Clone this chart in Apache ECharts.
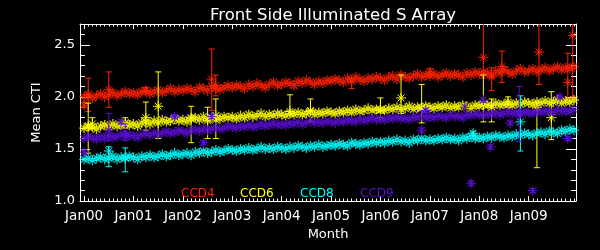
<!DOCTYPE html>
<html>
<head>
<meta charset="utf-8">
<script src="https://cdn.jsdelivr.net/npm/echarts@6/dist/echarts.min.js"></script>
<style>
html,body{margin:0;padding:0;background:#000;}
#chart{width:600px;height:250px;}
</style>
</head>
<body>
<div id="chart"></div>
<script>
// x positions are month indices counted from Jan 2000
const xTickLabels = ["Jan00","Jan01","Jan02","Jan03","Jan04","Jan05","Jan06","Jan07","Jan08","Jan09"];
const xTickMonths = [0,12,24,36,48,60,72,84,96,108];
const yTickValues = [1.0,1.5,2.0,2.5];
const yMinorValues = [1.1,1.2,1.3,1.4,1.6,1.7,1.8,1.9,2.1,2.2,2.3,2.4,2.6];

// monthly mean CTI, Jan00 .. Dec09
const ccd4 = [
 2.00,2.02,1.99,2.01,2.03,2.00,2.02,2.04,2.01,2.03,2.05,2.03,
 2.04,2.02,2.05,2.06,2.03,2.05,2.07,2.04,2.06,2.08,2.05,2.07,
 2.06,2.08,2.07,2.05,2.09,2.08,2.06,2.10,2.08,2.07,2.09,2.11,
 2.09,2.11,2.10,2.08,2.12,2.10,2.13,2.11,2.09,2.12,2.14,2.11,
 2.12,2.14,2.13,2.11,2.15,2.13,2.16,2.14,2.12,2.15,2.13,2.16,
 2.15,2.17,2.16,2.14,2.18,2.16,2.19,2.17,2.15,2.18,2.17,2.19,
 2.18,2.16,2.19,2.20,2.17,2.21,2.19,2.18,2.20,2.22,2.19,2.21,
 2.20,2.22,2.19,2.21,2.23,2.20,2.22,2.21,2.19,2.23,2.21,2.24,
 2.22,2.24,2.23,2.21,2.25,2.23,2.26,2.24,2.22,2.25,2.27,2.24,
 2.25,2.27,2.24,2.26,2.28,2.25,2.27,2.29,2.26,2.28,2.27,2.29
];
const ccd6 = [
 1.70,1.72,1.71,1.69,1.72,1.73,1.71,1.74,1.72,1.73,1.75,1.73,
 1.74,1.72,1.75,1.76,1.74,1.77,1.75,1.78,1.76,1.77,1.79,1.77,
 1.78,1.76,1.79,1.80,1.78,1.81,1.79,1.80,1.82,1.79,1.81,1.80,
 1.81,1.79,1.82,1.80,1.83,1.81,1.82,1.84,1.81,1.83,1.82,1.84,
 1.83,1.82,1.84,1.83,1.85,1.83,1.84,1.86,1.83,1.85,1.84,1.86,
 1.85,1.84,1.86,1.85,1.87,1.85,1.88,1.86,1.87,1.89,1.87,1.88,
 1.88,1.87,1.89,1.88,1.90,1.88,1.89,1.91,1.88,1.90,1.89,1.91,
 1.90,1.89,1.91,1.90,1.92,1.89,1.91,1.90,1.92,1.91,1.89,1.92,
 1.91,1.93,1.92,1.90,1.94,1.92,1.93,1.95,1.92,1.94,1.93,1.95,
 1.94,1.93,1.95,1.94,1.96,1.94,1.95,1.97,1.94,1.96,1.95,1.97
];
const ccd8 = [
 1.40,1.41,1.39,1.41,1.42,1.40,1.41,1.43,1.40,1.42,1.41,1.43,
 1.42,1.40,1.43,1.42,1.44,1.42,1.43,1.45,1.43,1.44,1.46,1.44,
 1.45,1.46,1.44,1.47,1.46,1.48,1.46,1.47,1.49,1.47,1.48,1.50,
 1.49,1.48,1.50,1.49,1.51,1.49,1.50,1.52,1.50,1.51,1.50,1.52,
 1.51,1.50,1.52,1.51,1.53,1.52,1.51,1.53,1.52,1.54,1.52,1.53,
 1.54,1.53,1.55,1.54,1.53,1.56,1.55,1.54,1.56,1.55,1.57,1.56,
 1.57,1.56,1.58,1.57,1.59,1.57,1.58,1.56,1.59,1.58,1.60,1.58,
 1.59,1.58,1.60,1.59,1.61,1.59,1.60,1.58,1.61,1.60,1.62,1.60,
 1.61,1.60,1.62,1.61,1.63,1.62,1.61,1.63,1.62,1.64,1.63,1.65,
 1.64,1.63,1.65,1.66,1.64,1.67,1.66,1.65,1.68,1.67,1.69,1.68
];
const ccd9 = [
 1.60,1.62,1.61,1.59,1.62,1.60,1.63,1.61,1.62,1.64,1.62,1.63,
 1.63,1.61,1.64,1.65,1.63,1.66,1.64,1.65,1.67,1.65,1.66,1.68,
 1.67,1.65,1.68,1.69,1.67,1.70,1.68,1.69,1.71,1.69,1.70,1.72,
 1.71,1.70,1.72,1.71,1.73,1.71,1.72,1.74,1.72,1.73,1.75,1.73,
 1.74,1.73,1.75,1.74,1.76,1.74,1.75,1.77,1.75,1.76,1.75,1.77,
 1.76,1.75,1.77,1.76,1.78,1.77,1.76,1.79,1.77,1.78,1.80,1.78,
 1.79,1.78,1.80,1.79,1.81,1.79,1.80,1.78,1.81,1.80,1.82,1.80,
 1.81,1.80,1.82,1.81,1.80,1.83,1.81,1.82,1.80,1.83,1.82,1.84,
 1.83,1.82,1.84,1.83,1.85,1.83,1.84,1.86,1.84,1.85,1.84,1.86,
 1.85,1.84,1.86,1.85,1.87,1.86,1.85,1.88,1.86,1.87,1.86,1.88
];

// points with visible error bars: [month, value, low, high]
const ccd4Err = [
 [0,1.92,1.90,1.95],[1,2.02,1.86,2.18],[6,2.07,1.90,2.24],[15,2.06,2.04,2.09],
 [31,2.17,1.87,2.46],[32,2.11,2.01,2.21],[65,2.15,2.08,2.17],[84,2.24,2.21,2.27],
 [97,2.38,2.18,2.80],[99,2.19,2.06,2.28],[101.5,2.29,2.14,2.44],[110.5,2.43,2.12,2.80],
 [117.5,2.14,1.98,2.42],[118.7,2.59,2.00,2.80]
];
const ccd6Err = [
 [1,1.71,1.46,1.94],[2,1.74,1.70,1.80],[10,1.74,1.70,1.80],[15,1.80,1.68,1.95],
 [18,1.91,1.60,2.24],[26,1.80,1.56,1.91],[30,1.77,1.60,1.90],[32,1.78,1.60,1.98],
 [50,1.86,1.84,2.02],[55,1.87,1.76,1.98],[72,1.87,1.80,1.99],[77,1.99,1.84,2.21],
 [82,1.90,1.75,2.12],[97,1.93,1.76,2.21],[99,1.92,1.76,1.98],[103,1.93,1.90,2.00],
 [110,1.90,1.32,1.95],[113.5,1.80,1.59,2.05]
];
const ccd8Err = [
 [6,1.48,1.33,1.52],[10,1.42,1.28,1.51],[94.5,1.65,1.63,1.67],[106,1.76,1.48,2.01]
];
const ccd9Err = [
 [0,1.47,1.45,1.49],[6,1.68,1.58,1.84],[9,1.76,1.74,1.78],[10,1.66,1.58,1.74],
 [22,1.81,1.79,1.83],[29,1.56,1.54,1.58],[31,1.81,1.79,1.83],[82,1.68,1.66,1.70],
 [83,1.87,1.85,1.89],[92.5,1.90,1.88,1.92],[94,1.17,1.15,1.19],[97,1.97,1.95,1.99],
 [98.7,1.52,1.50,1.54],[103.5,1.75,1.73,1.77],[105.7,1.84,1.57,2.10],[109,1.10,1.08,1.12],
 [115.6,2.00,1.98,2.02],[117.5,1.60,1.58,1.62]
];

const names = ["CCD4","CCD6","CCD8","CCD9"];
const colors = ["#ff2200","#ffff00","#00ffff","#5a0fd2"];
const mainData = [ccd4, ccd6, ccd8, ccd9];
const errData = [ccd4Err, ccd6Err, ccd8Err, ccd9Err];

const monthTicks = [];
for (let m = 0; m < 120; m++) monthTicks.push(m);

const XMIN = -1, XMAX = 119.5, YMIN = 1.0, YMAX = 2.7;
const FONT = "DejaVu Sans";
const star = 'path://M0 5L10 5M5 0L5 10M1.5 1.5L8.5 8.5M8.5 1.5L1.5 8.5';

function xAx(pos, major, show) {
  return {
    type: 'value', position: pos, min: XMIN, max: XMAX,
    splitLine: {show: false},
    axisLine: {show: show, onZero: false, lineStyle: {color: '#fff', width: 1}},
    axisTick: {show: true, inside: true, length: major ? 5 : 2.5,
      customValues: major ? xTickMonths : monthTicks, lineStyle: {color: '#fff'}},
    axisLabel: {show: false}
  };
}
function yAx(pos, major, show) {
  return {
    type: 'value', position: pos, min: YMIN, max: YMAX,
    splitLine: {show: false},
    axisLine: {show: show, onZero: false, lineStyle: {color: '#fff', width: 1}},
    axisTick: {show: true, inside: true, length: major ? 10 : 5,
      customValues: major ? yTickValues : yMinorValues, lineStyle: {color: '#fff'}},
    axisLabel: {show: false}
  };
}

const xAxes = [xAx('bottom', true, true), xAx('bottom', false, false), xAx('top', true, true), xAx('top', false, false)];
xAxes[0].axisLabel = {show: true, customValues: xTickMonths, margin: 8, color: '#fff',
  fontFamily: FONT, fontSize: 13.5,
  formatter: v => xTickLabels[xTickMonths.indexOf(Math.round(v))] || ''};
xAxes[0].name = 'Month';
xAxes[0].nameLocation = 'middle';
xAxes[0].nameGap = 24;
xAxes[0].nameTextStyle = {color: '#fff', fontFamily: FONT, fontSize: 13};

const yAxes = [yAx('left', true, true), yAx('left', false, false), yAx('right', true, true), yAx('right', false, false)];
yAxes[0].axisLabel = {show: true, customValues: yTickValues, margin: 5, color: '#fff',
  fontFamily: FONT, fontSize: 13, formatter: v => v.toFixed(1)};
yAxes[0].name = 'Mean CTI';
yAxes[0].nameLocation = 'middle';
yAxes[0].nameGap = 34;
yAxes[0].nameTextStyle = {color: '#fff', fontFamily: FONT, fontSize: 13};

const series = [];
names.forEach((n, i) => {
  series.push({
    name: n, type: 'scatter', xAxisIndex: 0, yAxisIndex: 0,
    data: mainData[i].map((v, m) => [m, v]),
    symbol: star, symbolSize: 10,
    itemStyle: {color: 'rgba(0,0,0,0)', borderColor: colors[i], borderWidth: 1.3},
    emphasis: {disabled: true}, animation: false, z: 2 + i
  });
  series.push({
    name: n, type: 'custom', xAxisIndex: 0, yAxisIndex: 0, clip: true,
    data: errData[i],
    encode: {x: 0, y: 1},
    renderItem: function (params, api) {
      const x = api.value(0);
      const top = api.coord([x, api.value(3)]);
      const bot = api.coord([x, api.value(2)]);
      const c = api.coord([x, api.value(1)]);
      const st = {stroke: colors[i], lineWidth: 1};
      const w = 3, s = 5;
      return {type: 'group', children: [
        {type: 'line', shape: {x1: top[0], y1: top[1], x2: bot[0], y2: bot[1]}, style: st},
        {type: 'line', shape: {x1: top[0]-w, y1: top[1], x2: top[0]+w, y2: top[1]}, style: st},
        {type: 'line', shape: {x1: bot[0]-w, y1: bot[1], x2: bot[0]+w, y2: bot[1]}, style: st},
        {type: 'line', shape: {x1: c[0]-s, y1: c[1], x2: c[0]+s, y2: c[1]}, style: st},
        {type: 'line', shape: {x1: c[0], y1: c[1]-s, x2: c[0], y2: c[1]+s}, style: st},
        {type: 'line', shape: {x1: c[0]-s*0.7, y1: c[1]-s*0.7, x2: c[0]+s*0.7, y2: c[1]+s*0.7}, style: st},
        {type: 'line', shape: {x1: c[0]-s*0.7, y1: c[1]+s*0.7, x2: c[0]+s*0.7, y2: c[1]-s*0.7}, style: st}
      ]};
    },
    emphasis: {disabled: true}, animation: false, z: 2 + i
  });
});

const legendLeft = [181, 240, 300, 360];
const chart = echarts.init(document.getElementById('chart'), null, {renderer: 'canvas'});
chart.setOption({
  backgroundColor: '#000',
  animation: false,
  title: {text: 'Front Side Illuminated S Array', left: 328, top: 2, textAlign: 'center',
    textStyle: {color: '#fff', fontFamily: FONT, fontSize: 16.5, fontWeight: 'normal'}},
  grid: {left: 80, right: 24, top: 24, bottom: 49, containLabel: false},
  graphic: names.map((n, i) => ({
    type: 'text', left: legendLeft[i], top: 188, z: 100,
    style: {text: n, fill: colors[i], font: '12px "DejaVu Sans"'}
  })),
  xAxis: xAxes,
  yAxis: yAxes,
  series: series
});
</script>
</body>
</html>
